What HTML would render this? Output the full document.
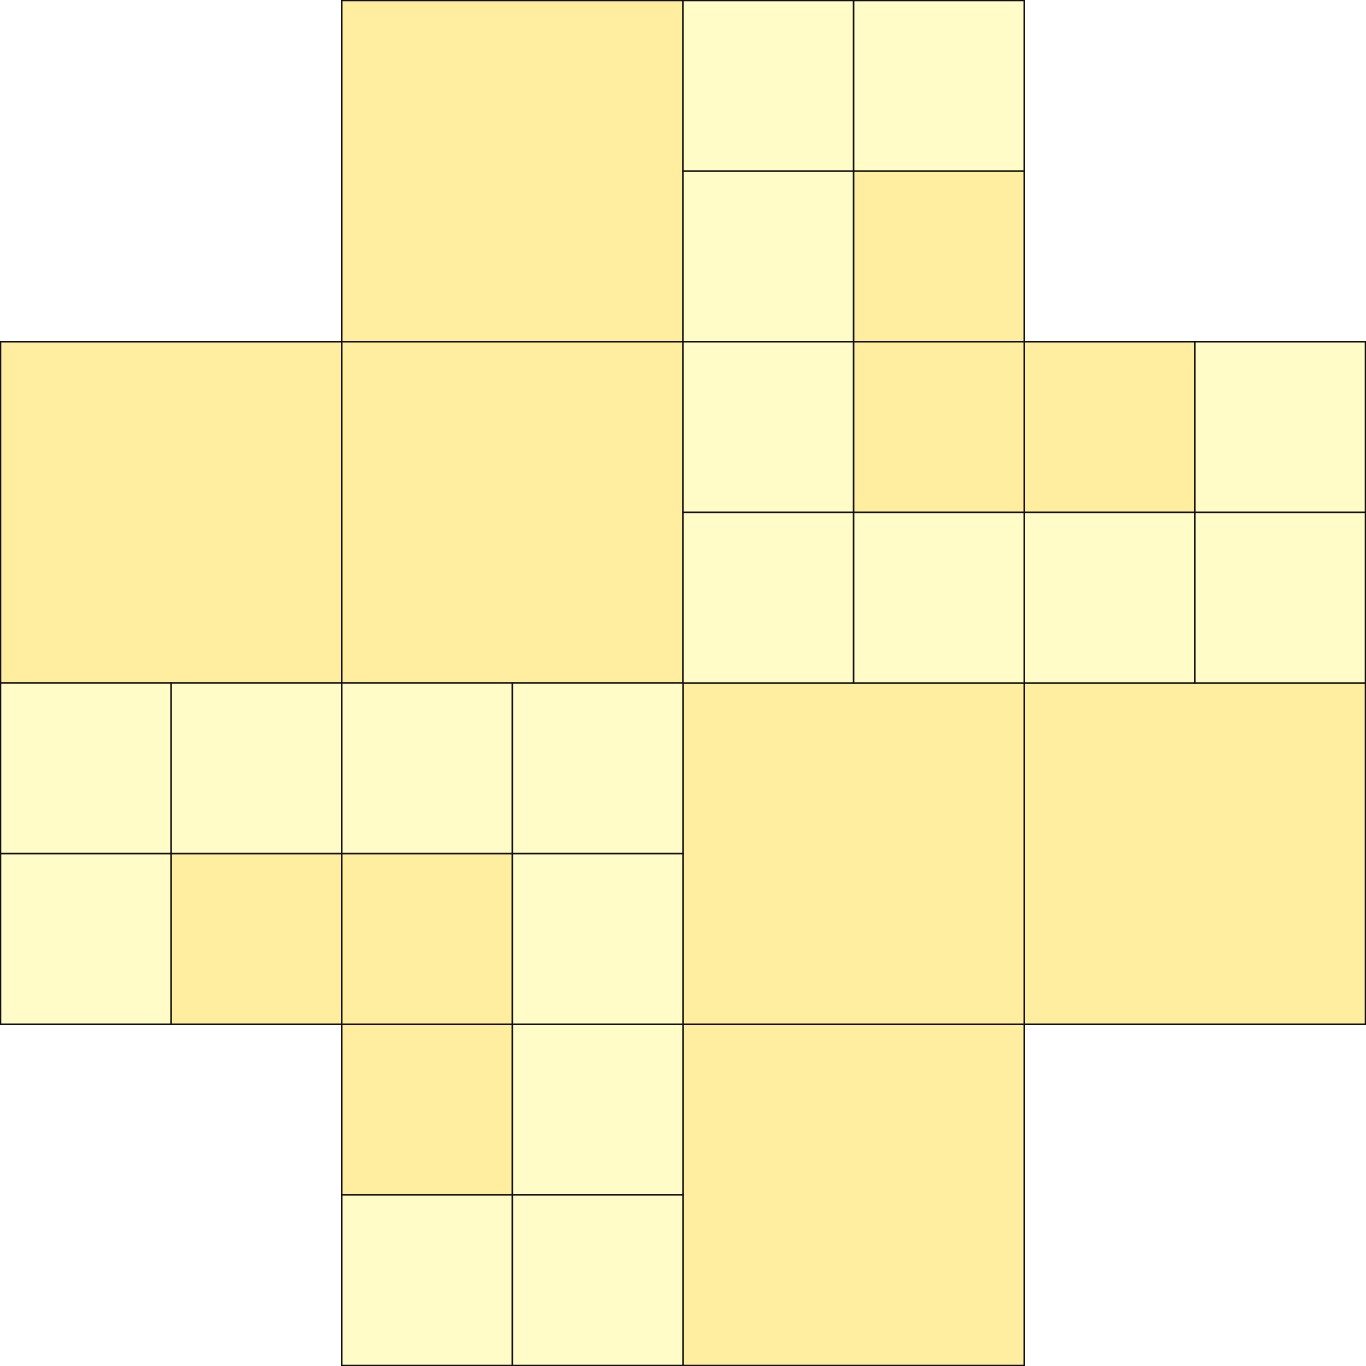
<!DOCTYPE html>
<html><head><meta charset="utf-8"><style>html,body{margin:0;padding:0;background:#fff}svg{display:block}</style></head>
<body>
<svg id="chart" width="1366" height="1366" viewBox="0 0 1366 1366"></svg>
<script>
const cellCols=[2,0,2,4,6,4, 4,5,4,5,4,5,6,7,4,5,6,7,0,1,2,3,0,1,2,3,2,3,2,3];
const cellRows=[0,2,2,4,4,6, 0,0,1,1,2,2,2,2,3,3,3,3,4,4,4,4,5,5,5,5,6,6,7,7];
const cellSizes=[2,2,2,2,2,2, 1,1,1,1,1,1,1,1,1,1,1,1,1,1,1,1,1,1,1,1,1,1,1,1];
const cellLevels=[1,1,1,1,1,1, 0,0,0,1,0,1,1,0,0,0,0,0,0,0,0,0,0,1,1,0,1,0,0,0];
const svg=document.getElementById('chart');
const u=1365/8;
const sx=c=>0.5+c*u;
const colors=['#fffcc8','#ffeda0'];
for(let i=0;i<cellCols.length;i++){
  const r=document.createElementNS('http://www.w3.org/2000/svg','rect');
  r.setAttribute('x',sx(cellCols[i]));
  r.setAttribute('y',sx(cellRows[i]));
  r.setAttribute('width',cellSizes[i]*u);
  r.setAttribute('height',cellSizes[i]*u);
  r.setAttribute('fill',colors[cellLevels[i]]);
  r.setAttribute('stroke','#111');
  r.setAttribute('stroke-width','1.5');
  
  
  svg.appendChild(r);
}
</script>
</body></html>
